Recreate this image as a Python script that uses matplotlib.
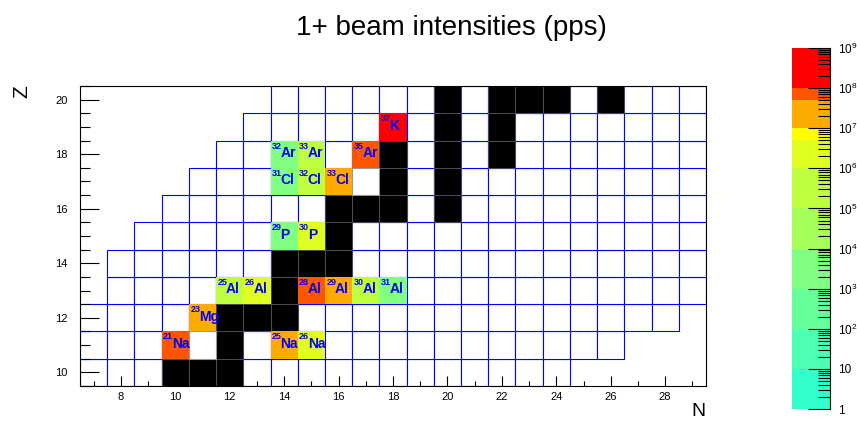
import numpy as np
import matplotlib
matplotlib.use('Agg')
import matplotlib.pyplot as plt
from matplotlib.colors import ListedColormap, BoundaryNorm
from matplotlib.ticker import MultipleLocator, LogLocator, NullFormatter

plt.rcParams['font.family'] = ['Liberation Sans', 'DejaVu Sans']
plt.rcParams['mathtext.fontset'] = 'custom'
plt.rcParams['mathtext.rm'] = 'Liberation Sans'

# known nuclei, one row per Z (white cells with blue border)
chart_z = [10, 11, 12, 13, 14, 15, 16, 17, 18, 19, 20]
chart_n_min = [7, 7, 7, 8, 8, 9, 10, 11, 12, 13, 14]
chart_n_max = [24, 26, 28, 29, 29, 29, 29, 29, 29, 29, 29]

# stable nuclei (black cells)
stable_z = [10, 10, 10, 11, 12, 12, 12, 13, 14, 14, 14, 15, 16, 16, 16, 16,
            17, 17, 18, 18, 18, 19, 19, 20, 20, 20, 20, 20]
stable_n = [10, 11, 12, 12, 12, 13, 14, 14, 14, 15, 16, 16, 16, 17, 18, 20,
            18, 20, 18, 20, 22, 20, 22, 20, 22, 23, 24, 26]

# cells with a grey border
grey_z = [11, 17]
grey_n = [11, 17]

# 1+ beams
beam_sym = ['Na', 'Na', 'Na', 'Mg', 'Al', 'Al', 'Al', 'Al', 'Al', 'Al',
            'P', 'P', 'Cl', 'Cl', 'Cl', 'Ar', 'Ar', 'Ar', 'K']
beam_a = [21, 25, 26, 23, 25, 26, 28, 29, 30, 31, 29, 30, 31, 32, 33, 32, 33, 35, 37]
beam_z = [11, 11, 11, 12, 13, 13, 13, 13, 13, 13, 15, 15, 17, 17, 17, 18, 18, 18, 19]
beam_pps = [7e7, 2e7, 2e6, 2e7, 3e5, 2e6, 7e7, 2e7, 3e5, 3e3,
            3e3, 2e6, 3e3, 3e5, 2e7, 3e3, 3e5, 7e7, 3e8]

# colour scale
levels = [1, 10, 1e2, 1e3, 1e4, 1e5, 1e6, 5e6, 1e7, 5e7, 1e8, 1e9]
band_colors = ['#33FFCC', '#4DFFB3', '#66FF99', '#80FF80', '#A6FF5A', '#C0FF40',
               '#E0FF20', '#FFFF00', '#FFAA00', '#FF5500', '#FF0000']
cbar_ticks = [1, 10, 1e2, 1e3, 1e4, 1e5, 1e6, 1e7, 1e8, 1e9]
cbar_labels = ['1', '10'] + [r'$\mathdefault{10^{%d}}$' % k for k in range(2, 10)]

cmap = ListedColormap(band_colors)
norm = BoundaryNorm(levels, cmap.N)

fig = plt.figure(figsize=(8.57, 4.21), dpi=100)
ax = fig.add_axes([80 / 857, 35 / 421, 626 / 857, 300 / 421])

for z, n0, n1 in zip(chart_z, chart_n_min, chart_n_max):
    n = np.arange(n0, n1 + 1)
    ax.bar(n, 1, width=1, bottom=z - 0.5, color='white', edgecolor='blue',
           linewidth=0.8, zorder=1)

ax.bar(stable_n, 1, width=1, bottom=np.array(stable_z) - 0.5, color='black',
       edgecolor='#555555', linewidth=0.6, zorder=2)
ax.bar(grey_n, 1, width=1, bottom=np.array(grey_z) - 0.5, color='white',
       edgecolor='#999999', linewidth=0.8, zorder=2)

beam_n = np.array(beam_a) - np.array(beam_z)
ax.bar(beam_n, 1, width=1, bottom=np.array(beam_z) - 0.5,
       color=cmap(norm(beam_pps)), edgecolor='none', zorder=2)

for a, n, z, s in zip(beam_a, beam_n, beam_z, beam_sym):
    ax.annotate(str(a), xy=(n - 0.5, z + 0.5), xytext=(1.5, -8),
                textcoords='offset pixels', fontsize=6.5, fontweight='bold',
                color='blue', ha='left', va='baseline', zorder=3)
    ax.annotate(s, xy=(n - 0.5, z + 0.5), xytext=(10, -16.5),
                textcoords='offset pixels', fontsize=10, fontweight='bold',
                color='blue', ha='left', va='baseline', zorder=3)

ax.set_xlim(6.5, 29.5)
ax.set_ylim(9.5, 20.5)
ax.xaxis.set_major_locator(MultipleLocator(2))
ax.xaxis.set_minor_locator(MultipleLocator(1))
ax.yaxis.set_major_locator(MultipleLocator(2))
ax.yaxis.set_minor_locator(MultipleLocator(0.5))
ax.tick_params(axis='x', which='major', direction='in', length=7.2, width=0.8,
               labelsize=8, pad=4)
ax.tick_params(axis='x', which='minor', direction='in', length=3.6, width=0.8)
ax.tick_params(axis='y', which='major', direction='in', length=13.7, width=0.8,
               labelsize=8, pad=9)
ax.tick_params(axis='y', which='minor', direction='in', length=7.2, width=0.8)
for sp in ax.spines.values():
    sp.set_linewidth(0.8)
    sp.set_zorder(4)

# colour bar
cax = fig.add_axes([792 / 857, 12 / 421, 38 / 857, 361 / 421])
mids = np.sqrt(np.array(levels[:-1]) * np.array(levels[1:]))
cax.pcolormesh([0, 1], levels, mids.reshape(-1, 1), cmap=cmap, norm=norm)
cax.set_yscale('log')
cax.set_ylim(1, 1e9)
cax.set_xlim(0, 1)
cax.set_xticks([])
for side in ['left', 'top', 'bottom']:
    cax.spines[side].set_visible(False)
cax.spines['right'].set_linewidth(0.8)
cax.yaxis.tick_right()
cax.set_yticks(cbar_ticks, cbar_labels)
cax.yaxis.set_minor_locator(LogLocator(base=10, subs=np.arange(2, 10), numticks=20))
cax.yaxis.set_minor_formatter(NullFormatter())
cax.tick_params(axis='y', which='major', direction='in', length=15.8, width=0.8,
                labelsize=8.5, pad=6)
cax.tick_params(axis='y', which='minor', direction='in', length=8.6, width=0.8)

fig.text(451 / 857, 1 - 28 / 421, '1+ beam intensities (pps)', fontsize=20,
         ha='center', va='center')
fig.text(22 / 857, 1 - 92 / 421, 'Z', rotation=90, fontsize=15,
         ha='center', va='center')
fig.text(698 / 857, 1 - 411 / 421, 'N', fontsize=14, ha='center', va='center')

fig.savefig('out.png', dpi=100)
